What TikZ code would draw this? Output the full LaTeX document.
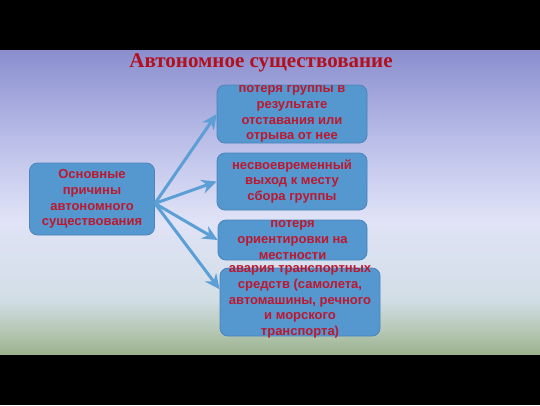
\documentclass[tikz,border=0pt]{standalone}
\usepackage{fontspec}
\setmainfont{Liberation Serif}
\setsansfont{Liberation Sans}
\usetikzlibrary{arrows.meta}

\definecolor{boxblue}{HTML}{5597CF}
\definecolor{boxedge}{HTML}{4A84BA}
\definecolor{arrowblue}{HTML}{5B9FD6}
\definecolor{causered}{HTML}{BC1830}
\definecolor{titlered}{HTML}{B3101E}
\definecolor{bgtop}{HTML}{8A8ECE}
\definecolor{bgmid}{HTML}{BEC2EA}
\definecolor{bglight}{HTML}{E0E3F6}
\definecolor{bgpale}{HTML}{D2DEE6}
\definecolor{bggreen}{HTML}{B6C8B6}
\definecolor{bgbot}{HTML}{9CB28E}

\pgfdeclareverticalshading{slidebg}{100bp}{color(0bp)=(bgbot); color(25bp)=(bgbot);
  color(29bp)=(bggreen); color(34bp)=(bgpale); color(47bp)=(bglight);
  color(59bp)=(bgmid); color(75bp)=(bgtop); color(100bp)=(bgtop)}

\begin{document}
\begin{tikzpicture} [x=1pt,y=-1pt,
            box/.style={draw=boxedge,fill=boxblue,rounded corners=8pt,line width=0.8pt,
              font=\sffamily\bfseries\fontsize{13}{15.7}\selectfont,text=causered,
              inner xsep=2pt,inner ysep=-12pt},
            outpt/.style={-{Stealth[length=15pt,width=14pt,inset=5pt]},arrowblue,line width=3pt},
         every node/.append style={align=center}]

% slide
\fill[black] (0,0) rectangle (540,405);
\shade[shading=slidebg] (0,50) rectangle (540,354);

% title
\node (title) at (261,63) [font=\rmfamily\bfseries\fontsize{21}{24}\selectfont,text=titlered]
   {Автономное существование};

% causes
\node (cause) at (92,199) [box,minimum width=125pt,minimum height=72pt]
   {Основные\\причины\\автономного\\существования};

\node (loss) at (292,114) [box,minimum width=150pt,minimum height=58pt]
   {потеря группы в\\результате\\отставания или\\отрыва от нее};
\node (late) at (292,181.5) [box,minimum width=150pt,minimum height=57pt]
   {несвоевременный\\выход к месту\\сбора группы};
\node (orient) at (292.5,240) [box,minimum width=149pt,minimum height=40pt]
   {потеря\\ориентировки на\\местности};
\node (crash) at (300,302) [box,minimum width=160pt,minimum height=68pt]
   {авария транспортных\\средств (самолета,\\автомашины, речного\\и морского\\транспорта)};

% arrows
\draw [outpt] (cause.-4) -- (loss.west);
\draw [outpt] (cause.-4) -- (late.west);
\draw [outpt] (cause.-4) -- (orient.west);
\draw [outpt] (cause.-4) -- (crash.171);

\end{tikzpicture}
\end{document}
